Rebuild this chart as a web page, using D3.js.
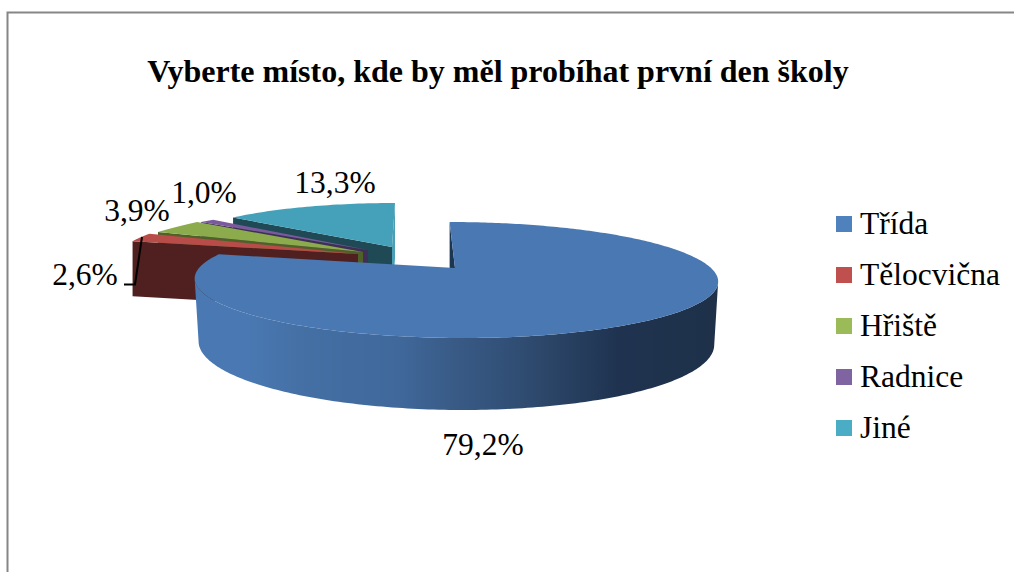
<!DOCTYPE html>
<html><head><meta charset="utf-8">
<script src="https://cdn.jsdelivr.net/npm/d3@7"></script>
<style>html,body{margin:0;padding:0;background:#fff}svg{display:block}text{font-family:"Liberation Serif",serif;fill:#000}</style>
</head><body><svg id="c" width="1014" height="572"></svg>
<script>
const categories=["Třída","Tělocvična","Hřiště","Radnice","Jiné"];
const values=[79.2,2.6,3.9,1.0,13.3];
const titleText="Vyberte místo, kde by měl probíhat první den školy";
const legendColors=["#4f81bd","#c0504d","#9bbb59","#8064a2","#4bacc6"];
const topColors=["#4a78b2","#b84c49","#8cab4c","#7a5a9c","#45a1b9"];
const wallColors=["#1c3550","#4f201f","#4f6128","#3f2f57","#1f4a55"];
// layout of exploded wedges in screen space: apex x, apex y, radius x, radius y, skew
const wedgeLayout=[null,[358,254,240,49,24],[363,252,243,48,39],[368,250,245,45,40],[392,247,217,44,3]];
const labelPos=[[483,455],[85,285],[137,221],[204,203],[335,193]];
const depth=55;
const svg=d3.select("#c");
const defs=svg.append("defs");
const g=defs.append("linearGradient").attr("id","side").attr("gradientUnits","userSpaceOnUse").attr("x1",195).attr("x2",718).attr("y1",0).attr("y2",0);
[[0.1,"#4a78b2"],[0.2,"#4470a5"],[0.39,"#40689b"],[0.5,"#385a85"],[0.58,"#33527a"],[0.68,"#2b4567"],[0.81,"#1f3350"],[1,"#1e3149"]].forEach(s=>g.append("stop").attr("offset",s[0]).attr("stop-color",s[1]));

// frame
svg.append("path").attr("d","M1014,12.5H7.5V572").attr("fill","none").attr("stroke","#868686").attr("stroke-width",2);

const arcs=d3.pie().sort(null).value(d=>d)(values);
// perspective projection of main pie
const b=0.207,ya=55.5,cx=256,sk=6.5;
const main=(th)=>{const u=Math.sin(th),v=-Math.cos(th),den=1-b*v;return [455+(cx*u+sk*v)/den,268+ya*v/den];};
const wedge=(L,th)=>[L[0]+L[2]*Math.sin(th)+L[4]*Math.cos(th),L[1]-L[3]*Math.cos(th)];
const angles=(a,c)=>d3.range(0,c+1).map(i=>a.startAngle+(a.endAngle-a.startAngle)*i/c);
const line=d3.line();
const down=p=>[p[0],p[1]+depth];
// lower rim of the main wedge, seen slightly larger in depth at the front
const lower=p=>[456+(p[0]-456)*0.985,343+(p[1]-280)*67/58];

// exploded wedges, back to front
[4,3,2,1].forEach(i=>{
  const a=arcs[i],L=wedgeLayout[i],apex=[L[0],L[1]];
  const ang=angles(a,40),rim=ang.map(t=>wedge(L,t));
  if(i===4){svg.append("path").attr("d",line([apex,rim[40],down(rim[40]),down(apex)])+"Z").attr("fill","#4a9fb5");}
  svg.append("path").attr("d",line([rim[0],apex,down(apex),down(rim[0])])+"Z").attr("fill",wallColors[i]);
  svg.append("path").attr("d",line([apex,...rim])+"Z").attr("fill",topColors[i]);
});

// main wedge
const a0=arcs[0],ang0=angles(a0,300),rim0=ang0.map(main);
const apex0=[455,268];
svg.append("path").attr("d",line([apex0,rim0[0],down(rim0[0]),down(apex0)])+"Z").attr("fill",wallColors[0]);
// visible wall runs between the rightmost and leftmost points of the rim
const iR=d3.greatestIndex(rim0,p=>p[0]),iL=d3.leastIndex(rim0,p=>p[0]);
const front=rim0.slice(iR,iL+1);
svg.append("path").attr("d",line([...front,...front.map(lower).reverse()])+"Z").attr("fill","url(#side)");
svg.append("path").attr("d",line([apex0,...rim0])+"Z").attr("fill",topColors[0]);

// leader
svg.append("path").attr("d","M124,284.5H135L142,237").attr("fill","none").attr("stroke","#000").attr("stroke-width",2);

// labels
const fmt=v=>d3.format(".1f")(v).replace(".",",")+"%";
values.forEach((v,i)=>svg.append("text").attr("x",labelPos[i][0]).attr("y",labelPos[i][1]).attr("text-anchor","middle").attr("font-size",31.5).text(fmt(v)));

// title
svg.append("text").attr("x",498).attr("y",82).attr("text-anchor","middle").attr("font-size",32).attr("font-weight","bold").text(titleText);

// legend
const ly=d3.scalePoint().domain(categories).range([224,428]);
categories.forEach((c,i)=>{
  svg.append("rect").attr("x",836).attr("y",ly(c)-8).attr("width",16).attr("height",16).attr("fill",legendColors[i]);
  svg.append("text").attr("x",860).attr("y",ly(c)+10).attr("font-size",31.5).text(c);
});
</script></body></html>
